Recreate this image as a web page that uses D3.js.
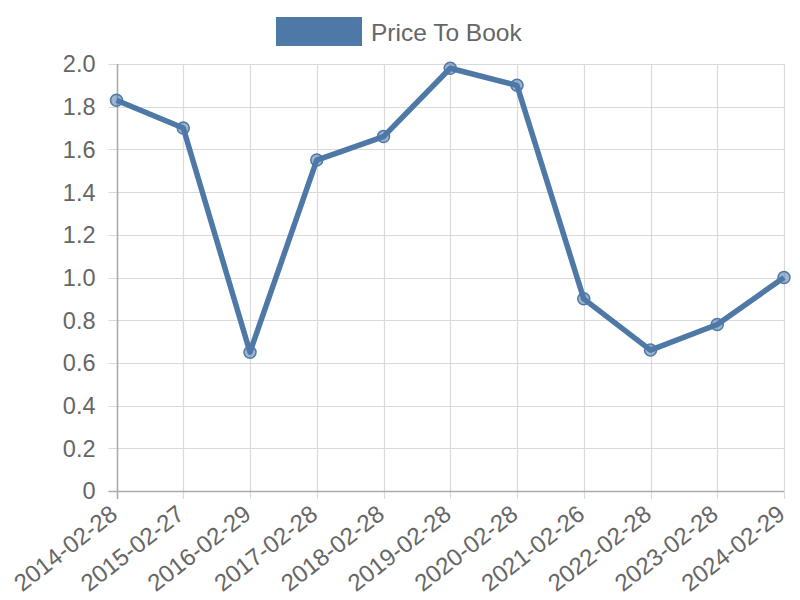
<!DOCTYPE html>
<html><head><meta charset="utf-8">
<script src="https://cdn.jsdelivr.net/npm/d3@7"></script>
<style>body{margin:0;background:#fff}svg{display:block}</style>
</head><body>
<svg id="c" width="800" height="600"></svg>
<script>
const categories = ["2014-02-28","2015-02-27","2016-02-29","2017-02-28","2018-02-28","2019-02-28","2020-02-28","2021-02-26","2022-02-28","2023-02-28","2024-02-29"];
const priceToBook = [1.83,1.70,0.65,1.55,1.66,1.98,1.90,0.90,0.66,0.78,1.00];
const yTicks = [0,0.2,0.4,0.6,0.8,1.0,1.2,1.4,1.6,1.8,2.0];
const seriesName = "Price To Book";

const color = "#4e79a7";
const font = "'Liberation Sans', Arial, sans-serif";
const svg = d3.select("#c");
const L = 116.5, R = 784, T = 64, B = 491;
const x = d3.scalePoint().domain(categories).range([L, R]);
const y = d3.scaleLinear().domain([0, 2]).range([B, T]);

const g = svg.append("g");
g.selectAll(".hg").data(yTicks).join("line")
  .attr("x1", L - 8).attr("x2", R).attr("y1", d => Math.round(y(d)) + 0.5).attr("y2", d => Math.round(y(d)) + 0.5)
  .attr("stroke", "#dadada").attr("stroke-width", 1.2);
g.selectAll(".vg").data(categories).join("line")
  .attr("x1", d => Math.round(x(d)) + 0.5).attr("x2", d => Math.round(x(d)) + 0.5).attr("y1", T).attr("y2", B + 8)
  .attr("stroke", "#dadada").attr("stroke-width", 1.2);
svg.append("line").attr("x1", Math.round(L) + 0.5).attr("x2", Math.round(L) + 0.5).attr("y1", T).attr("y2", B + 8).attr("stroke", "#aaa").attr("stroke-width", 1.5);
svg.append("line").attr("x1", L - 8).attr("x2", R).attr("y1", B + 0.5).attr("y2", B + 0.5).attr("stroke", "#aaa").attr("stroke-width", 1.5);

svg.selectAll(".yl").data(yTicks).join("text")
  .attr("x", L - 21).attr("y", d => y(d)).attr("dy", "0.36em")
  .attr("text-anchor", "end").attr("font-family", font).attr("font-size", 23.5).attr("fill", "#666")
  .text(d => d === 0 ? "0" : d.toFixed(1));

svg.selectAll(".xl").data(categories).join("text")
  .attr("transform", d => `translate(${x(d) + 2.5},${B + 26}) rotate(-38)`)
  .attr("text-anchor", "end").attr("font-family", font).attr("font-size", 24).attr("fill", "#666")
  .text(d => d);

const line = d3.line().x((d, i) => x(categories[i])).y(d => y(d));
svg.append("path").datum(priceToBook).attr("d", line)
  .attr("fill", "none").attr("stroke", color).attr("stroke-width", 5.5).attr("stroke-linejoin", "round");
svg.selectAll(".pt").data(priceToBook).join("circle")
  .attr("cx", (d, i) => x(categories[i])).attr("cy", d => y(d)).attr("r", 6)
  .attr("fill", "rgba(78,121,167,0.55)").attr("stroke", color).attr("stroke-width", 1.5);

svg.append("rect").attr("x", 276).attr("y", 17).attr("width", 86).attr("height", 29).attr("fill", color);
svg.append("text").attr("x", 371).attr("y", 32).attr("dy", "0.35em")
  .attr("font-family", font).attr("font-size", 24.5).attr("fill", "#666").text(seriesName);
</script>
</body></html>
